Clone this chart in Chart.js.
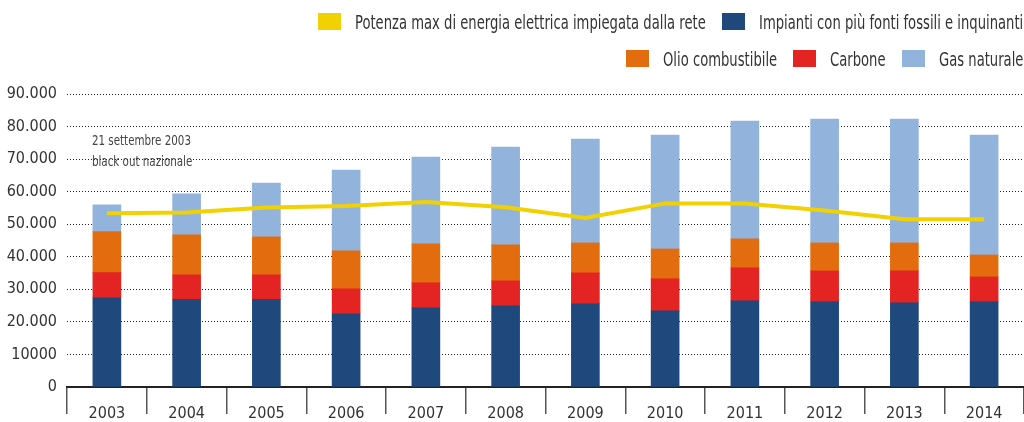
<!DOCTYPE html>
<html>
<head>
<meta charset="utf-8">
<script src="https://cdn.jsdelivr.net/npm/chart.js@4/dist/chart.umd.min.js"></script>
<style>
  html, body { margin: 0; padding: 0; background: #fff; }
  #wrap { position: relative; width: 1024px; height: 422px; overflow: hidden; }
  #legend {
    position: absolute; top: 3px; right: 1px;
    font-family: 'DejaVu Sans Condensed', 'Liberation Sans', sans-serif;
    font-size: 19px; color: #333;
  }
  .row { display: flex; justify-content: flex-end; height: 37px; }
  .item { display: flex; align-items: center; margin-left: 16px; white-space: nowrap; }
  .box { width: 23px; height: 17px; margin-right: 14px; flex: none; }
  .txt { display: inline-block; overflow: visible; }
  .txt span { display: inline-block; transform: scaleX(0.77); transform-origin: 0 50%; }
</style>
</head>
<body>
<div id="wrap">
  <canvas id="chart" width="1024" height="422"></canvas>
  <div id="legend"></div>
</div>
<script>
const FONT = "'DejaVu Sans Condensed', 'Liberation Sans', sans-serif";

const years = ['2003', '2004', '2005', '2006', '2007', '2008', '2009', '2010', '2011', '2012', '2013', '2014'];
const potenza = [53400, 53600, 55100, 55600, 56800, 55200, 51900, 56400, 56400, 54200, 51500, 51500];
const impianti = [27500, 26900, 26900, 22500, 24300, 24950, 25650, 23400, 26450, 26250, 25850, 26250];
const carbone = [7650, 7550, 7550, 7650, 7700, 7650, 9400, 9800, 10150, 9400, 9800, 7550];
const olio = [12600, 12300, 11650, 11650, 11950, 11050, 9200, 9200, 8900, 8600, 8600, 6750];
const gas = [8200, 12600, 16550, 24850, 26700, 30050, 31900, 35000, 36200, 38050, 38050, 36800];
const yTickLabels = ['0', '10000', '20.000', '30.000', '40.000', '50.000', '60.000', '70.000', '80.000', '90.000'];
const noteLines = ['21 settembre 2003', 'black out nazionale'];

// note text near the 2003 bar, squeezed a bit to look condensed
const notePlugin = {
  id: 'note',
  afterDatasetsDraw(chart) {
    const { ctx, scales } = chart;
    const x = scales.x.getPixelForValue(0) - 15;
    ctx.save();
    ctx.font = '14px ' + FONT;
    ctx.fillStyle = '#444';
    ctx.textBaseline = 'middle';
    noteLines.forEach((line, i) => {
      const y = scales.y.getPixelForValue(i === 0 ? 75500 : 68900);
      ctx.save();
      ctx.translate(x, y);
      ctx.scale(0.82, 1);
      ctx.fillText(line, 0, 0);
      ctx.restore();
    });
    ctx.restore();
  }
};

const ctx = document.getElementById('chart').getContext('2d');
const chart = new Chart(ctx, {
  type: 'bar',
  data: {
    labels: years,
    datasets: [
      {
        type: 'line',
        label: 'Potenza max di energia elettrica impiegata dalla rete',
        data: potenza,
        borderColor: '#f2d100',
        backgroundColor: '#f2d100',
        borderWidth: 4,
        pointRadius: 0,
        tension: 0,
        stack: 'line',
      },
      { label: 'Impianti con più fonti fossili e inquinanti', data: impianti, backgroundColor: '#1f497d', stack: 'bars' },
      { label: 'Carbone', data: carbone, backgroundColor: '#e42323', stack: 'bars' },
      { label: 'Olio combustibile', data: olio, backgroundColor: '#e36c0e', stack: 'bars' },
      { label: 'Gas naturale', data: gas, backgroundColor: '#92b4dc', stack: 'bars' },
    ],
  },
  options: {
    responsive: false,
    animation: false,
    barThickness: 28,
    layout: { padding: { top: 94, left: 0, right: 0, bottom: 0 } },
    plugins: {
      legend: { display: false },
      tooltip: { enabled: false },
    },
    scales: {
      x: {
        stacked: true,
        grid: {
          offset: true,
          drawOnChartArea: false,
          drawTicks: true,
          tickLength: 27,
          color: '#555',
          lineWidth: 1.5,
        },
        border: { display: true, color: '#222', width: 2 },
        ticks: {
          padding: -10,
          color: '#333',
          font: { family: FONT, size: 16 },
        },
        afterFit(scale) { scale.height = 35; },
      },
      y: {
        stacked: true,
        min: 0,
        max: 90000,
        grid: { drawTicks: false, color: '#222', lineWidth: 1 },
        border: { display: false, dash: [1, 2] },
        ticks: {
          stepSize: 10000,
          padding: 10,
          color: '#333',
          font: { family: FONT, size: 16 },
          callback: (value, index) => yTickLabels[index],
        },
        afterFit(scale) { scale.width = 67; },
      },
    },
  },
  plugins: [notePlugin],
});

// html legend in two rows, same order as the reference
const legendRows = [[0, 1], [3, 2, 4]];
const legendDiv = document.getElementById('legend');
legendRows.forEach(row => {
  const rowDiv = document.createElement('div');
  rowDiv.className = 'row';
  row.forEach(i => {
    const ds = chart.data.datasets[i];
    const item = document.createElement('div');
    item.className = 'item';
    const box = document.createElement('span');
    box.className = 'box';
    box.style.background = ds.backgroundColor;
    const txt = document.createElement('span');
    txt.className = 'txt';
    const inner = document.createElement('span');
    inner.textContent = ds.label;
    txt.appendChild(inner);
    item.appendChild(box);
    item.appendChild(txt);
    rowDiv.appendChild(item);
  });
  legendDiv.appendChild(rowDiv);
});
// shrink the wrappers to the scaled text width
document.querySelectorAll('.txt').forEach(t => {
  t.style.width = t.firstChild.getBoundingClientRect().width + 'px';
});
</script>
</body>
</html>
